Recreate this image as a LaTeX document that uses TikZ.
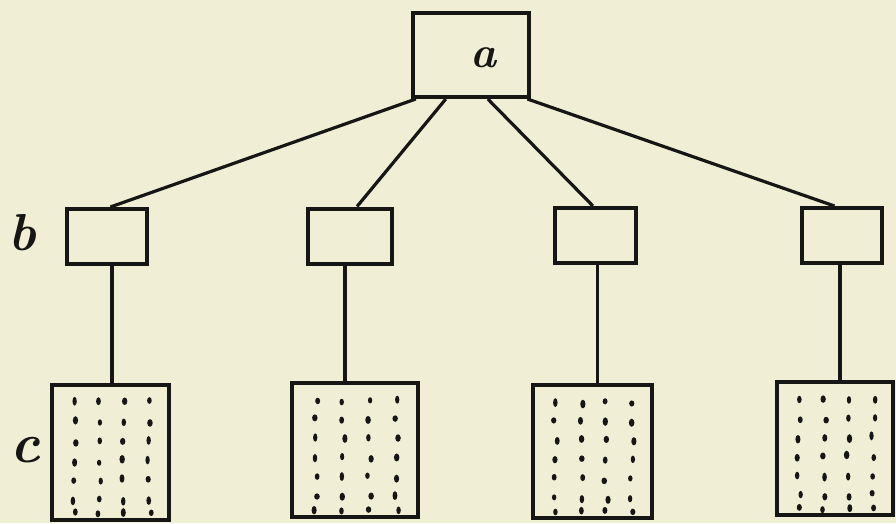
\documentclass[tikz,border=0pt]{standalone}
\usetikzlibrary{calc}
\definecolor{paper}{RGB}{240,238,212}
\definecolor{ink}{RGB}{22,22,20}
\begin{document}
\begin{tikzpicture}[x=1pt,y=-1pt,
  boxa/.style={draw=ink,line width=4pt,rectangle,inner sep=0pt,minimum width=116pt,minimum height=84pt},
  boxb/.style={draw=ink,line width=4pt,rectangle,inner sep=0pt,minimum width=80pt,minimum height=55pt},
  boxc/.style={draw=ink,line width=4.2pt,rectangle,inner sep=0pt},
  conn/.style={draw=ink,line width=3.2pt},
  lbl/.style={text=ink,inner sep=0pt,font=\bfseries\itshape},
  dot/.style={fill=ink}]
\fill[paper] (0,0) rectangle (896,523);
\useasboundingbox (0,0) rectangle (896,523);
% top box
\node[boxa] (a) at (471,55) {};
\node[lbl,font=\fontsize{44}{44}\selectfont\bfseries\itshape] (la) at (483,58) {a};
% middle boxes
\node[boxb] (b1) at (107,236.5) {};
\node[boxb,minimum width=84pt] (b2) at (350,236) {};
\node[boxb,minimum width=81pt] (b3) at (595.5,235.5) {};
\node[boxb] (b4) at (842,235.5) {};
% bottom boxes
\node[boxc,minimum width=117pt,minimum height=135pt] (c1) at (110.5,452.5) {};
\node[boxc,minimum width=126pt,minimum height=134pt] (c2) at (355,450) {};
\node[boxc,minimum width=119pt,minimum height=133pt] (c3) at (592.5,451.5) {};
\node[boxc,minimum width=116pt,minimum height=133pt] (c4) at (835,448.5) {};
% labels
\node[lbl,font=\fontsize{52}{52}\selectfont\bfseries\itshape] (lb) at (22,233) {b};
\node[lbl,font=\fontsize{56}{56}\selectfont\bfseries\itshape] (lc) at (25,450) {c};
% connectors a -> b
\draw[conn] ($(a.south west)!0.04!(a.south east)$) -- ($(b1.north west)!0.54!(b1.north east)$);
\draw[conn] ($(a.south west)!0.29!(a.south east)$) -- ($(b2.north west)!0.58!(b2.north east)$);
\draw[conn] ($(a.south west)!0.64!(a.south east)$) -- ($(b3.north west)!0.47!(b3.north east)$);
\draw[conn] ($(a.south west)!0.97!(a.south east)$) -- ($(b4.north west)!0.41!(b4.north east)$);
% connectors b -> c
\coordinate (s1) at ($(b1.south)+(5,0)$);
\coordinate (s2) at ($(b2.south)+(-5,0)$);
\coordinate (s3) at ($(b3.south)+(2,0)$);
\coordinate (s4) at ($(b4.south)+(-2,0)$);
\draw[conn] (s1) -- (s1 |- c1.north);
\draw[conn] (s2) -- (s2 |- c2.north);
\draw[conn] (s3) -- (s3 |- c3.north);
\draw[conn] (s4) -- (s4 |- c4.north);
% dots
\pgfmathsetseed{42}
\foreach \c in {c1,c2,c3,c4}{
  \foreach \fx in {0.2,0.41,0.61,0.82}{
    \foreach \fy in {0.14,0.28,0.42,0.56,0.70,0.84,0.94}{
      \pgfmathsetmacro{\jx}{2*rand}
      \pgfmathsetmacro{\jy}{2*rand}
      \pgfmathsetmacro{\rx}{2.1+0.7*rnd}
      \pgfmathsetmacro{\ry}{3.0+1.5*rnd}
      \coordinate (px) at ($(\c.north west)!\fx!(\c.north east)$);
      \coordinate (py) at ($(\c.north west)!\fy!(\c.south west)$);
      \fill[dot] (px |- py) ++(\jx,\jy) ellipse[x radius=\rx,y radius=\ry];
    }
  }
}
\end{tikzpicture}
\end{document}
